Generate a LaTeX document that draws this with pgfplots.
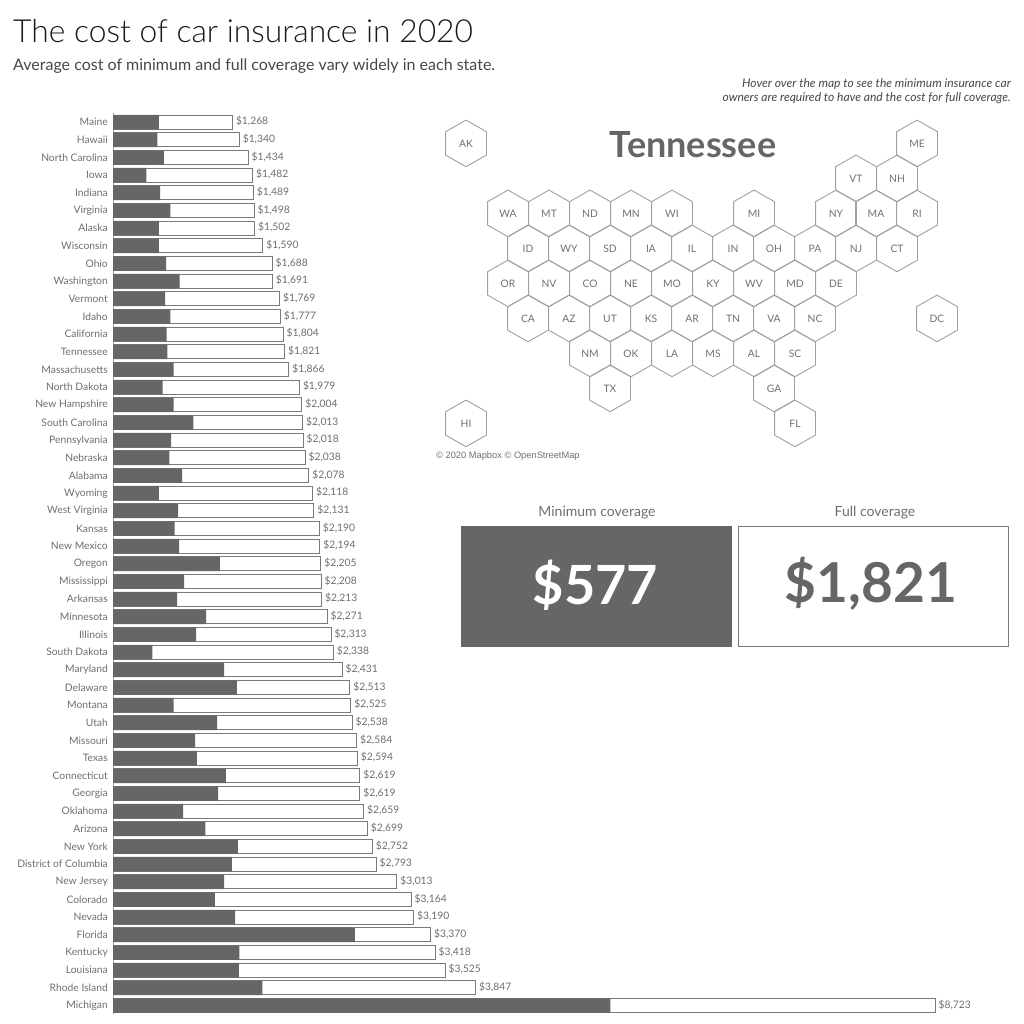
\documentclass[border=0pt]{standalone}
\usepackage{fontspec}
\setmainfont{Lato}
\newfontfamily\mapfont{Liberation Sans}
\newfontfamily\lightfont{Lato Light}
\usepackage{pgfplots}
\usepackage{pgfplotstable}
\pgfplotsset{compat=1.18}

\definecolor{bardark}{HTML}{666666}
\definecolor{baredge}{HTML}{7A7A7A}
\definecolor{labelgray}{HTML}{6E6E6E}
\definecolor{hexedge}{HTML}{A0A0A0}
\definecolor{hextext}{HTML}{707070}
\definecolor{titlegray}{HTML}{333333}

% row full min
\pgfplotstableread{
row full min
0 1268 488
1 1340 471
2 1434 541
3 1482 354
4 1489 499
5 1498 609
6 1502 488
7 1590 488
8 1688 563
9 1691 708
10 1769 552
11 1777 609
12 1804 570
13 1821 577
14 1866 644
15 1979 527
16 2004 644
17 2013 853
18 2018 616
19 2038 598
20 2078 733
21 2118 488
22 2131 690
23 2190 655
24 2194 701
25 2205 1133
26 2208 754
27 2213 680
28 2271 988
29 2313 881
30 2338 418
31 2431 1179
32 2513 1313
33 2525 644
34 2538 1104
35 2584 871
36 2594 889
37 2619 1197
38 2619 1115
39 2659 743
40 2699 981
41 2752 1324
42 2793 1260
43 3013 1179
44 3164 1080
45 3190 1296
46 3370 2567
47 3418 1342
48 3525 1335
49 3847 1586
50 8723 5276
}\costdata

% hex cell centres in page pixels
\pgfplotstableread{
x y lab
466 143.4 AK
917 143.4 ME
856 178.4 VT
897 178.4 NH
508 213.4 WA
549 213.4 MT
590 213.4 ND
631 213.4 MN
672 213.4 WI
754 213.4 MI
836 213.4 NY
876 213.4 MA
917 213.4 RI
528 248.4 ID
569 248.4 WY
610 248.4 SD
651 248.4 IA
692 248.4 IL
733 248.4 IN
774 248.4 OH
815 248.4 PA
856 248.4 NJ
897 248.4 CT
508 283.4 OR
549 283.4 NV
590 283.4 CO
631 283.4 NE
672 283.4 MO
713 283.4 KY
754 283.4 WV
795 283.4 MD
836 283.4 DE
528 318.4 CA
569 318.4 AZ
610 318.4 UT
651 318.4 KS
692 318.4 AR
733 318.4 TN
774 318.4 VA
815 318.4 NC
937 318.4 DC
590 353.4 NM
631 353.4 OK
672 353.4 LA
713 353.4 MS
754 353.4 AL
795 353.4 SC
610 388.4 TX
774 388.4 GA
466 423.4 HI
795 423.4 FL
}\hexdata

\pgfdeclareplotmark{hexcell}{%
  \pgfpathmoveto{\pgfpoint{0pt}{23.3pt}}%
  \pgfpathlineto{\pgfpoint{20.45pt}{11.7pt}}%
  \pgfpathlineto{\pgfpoint{20.45pt}{-11.7pt}}%
  \pgfpathlineto{\pgfpoint{0pt}{-23.3pt}}%
  \pgfpathlineto{\pgfpoint{-20.45pt}{-11.7pt}}%
  \pgfpathlineto{\pgfpoint{-20.45pt}{11.7pt}}%
  \pgfpathclose
  \pgfusepathqstroke
}

\begin{document}
\begin{tikzpicture}[x=1pt,y=1pt]
\useasboundingbox (0,0) rectangle (1024,1024);

% bars
\begin{axis}[
  at={(113pt,9.6pt)},
  anchor=south west,
  scale only axis,
  width=848.25pt,
  height=901pt,
  xmin=0, xmax=9000,
  ymin=-0.5, ymax=50.5,
  y dir=reverse,
  clip=false,
  axis x line=none,
  axis y line=left,
  axis line style={-,draw=black!35,line width=1pt},
  ytick=data,
  major tick length=0pt,
  yticklabels={Maine,Hawaii,North Carolina,Iowa,Indiana,Virginia,Alaska,Wisconsin,Ohio,Washington,Vermont,Idaho,California,Tennessee,Massachusetts,North Dakota,New Hampshire,South Carolina,Pennsylvania,Nebraska,Alabama,Wyoming,West Virginia,Kansas,New Mexico,Oregon,Mississippi,Arkansas,Minnesota,Illinois,South Dakota,Maryland,Delaware,Montana,Utah,Missouri,Texas,Connecticut,Georgia,Oklahoma,Arizona,New York,District of Columbia,New Jersey,Colorado,Nevada,Florida,Kentucky,Louisiana,Rhode Island,Michigan},
  yticklabel style={font=\fontsize{10.3}{12}\selectfont,text=labelgray,inner sep=0pt,xshift=-5pt},
  /pgf/number format/assume math mode=true,
  /pgf/number format/fixed,
  /pgf/number format/precision=0,
  /pgf/number format/1000 sep={,},
]
\addplot[xbar,bar shift=0pt,bar width=14pt,fill=white,draw=baredge,line width=1pt,
  point meta=x,
  nodes near coords={\$\pgfmathprintnumber{\pgfplotspointmeta}},
  every node near coord/.append style={font=\fontsize{10.3}{12}\selectfont,text=labelgray,inner sep=0pt,xshift=3pt,yshift=1pt},
] table[x=full,y=row] {\costdata};
\addplot[xbar,bar shift=0pt,bar width=14.5pt,fill=bardark,draw=none] table[x=min,y=row] {\costdata};
\end{axis}

% page-pixel overlay: hex map, tiles and all text
\begin{axis}[
  at={(0pt,0pt)},
  anchor=south west,
  scale only axis,
  width=1024pt,
  height=1024pt,
  xmin=0, xmax=1024,
  ymin=0, ymax=1024,
  y dir=reverse,
  clip=false,
  hide axis,
]
\addplot[only marks,mark=hexcell,mark options={draw=hexedge,line width=0.9pt},
  point meta=explicit symbolic,
  nodes near coords,
  nodes near coords align={center},
  every node near coord/.append style={font=\fontsize{10.3}{12}\selectfont,text=hextext,inner sep=0pt},
] table[x=x,y=y,meta=lab] {\hexdata};

\addplot[fill=bardark,draw=none] coordinates {(461,526) (732,526) (732,647) (461,647)} --cycle;
\addplot[fill=white,draw=baredge,line width=1pt] coordinates {(738.5,526.5) (1008.5,526.5) (1008.5,646.5) (738.5,646.5)} --cycle;

\node[anchor=base west,inner sep=0pt,text=black!90,font=\lightfont\fontsize{31.8}{36}\selectfont] at (axis cs:13,43) {The cost of car insurance in 2020};
\node[anchor=base west,inner sep=0pt,text=titlegray!90,font=\fontsize{16}{20}\selectfont] at (axis cs:13,70.5) {Average cost of minimum and full coverage vary widely in each state.};
\node[anchor=base east,inner sep=0pt,text=titlegray!90,font=\fontsize{12.05}{14}\selectfont\itshape] at (axis cs:1011,88) {Hover over the map to see the minimum insurance car};
\node[anchor=base east,inner sep=0pt,text=titlegray!90,font=\fontsize{12.05}{14}\selectfont\itshape] at (axis cs:1011,102) {owners are required to have and the cost for full coverage.};
\node[anchor=center,inner sep=0pt,text=bardark,font=\fontsize{36}{40}\selectfont\bfseries] at (axis cs:693,145) {Tennessee};
\node[anchor=base west,inner sep=0pt,text=hextext,font=\mapfont\fontsize{9.3}{11}\selectfont] at (axis cs:436,458.5) {© 2020 Mapbox © OpenStreetMap};
\node[anchor=center,inner sep=0pt,text=labelgray,font=\fontsize{14}{16}\selectfont] at (axis cs:597,513) {Minimum coverage};
\node[anchor=center,inner sep=0pt,text=labelgray,font=\fontsize{14}{16}\selectfont] at (axis cs:875,513) {Full coverage};
\node[anchor=center,inner sep=0pt,text=white,font=\fontsize{54}{60}\selectfont\bfseries] at (axis cs:595.5,585) {\$577};
\node[anchor=center,inner sep=0pt,text=bardark,font=\fontsize{55}{60}\selectfont\bfseries] at (axis cs:871,584) {\$1,821};
\end{axis}
\end{tikzpicture}
\end{document}
